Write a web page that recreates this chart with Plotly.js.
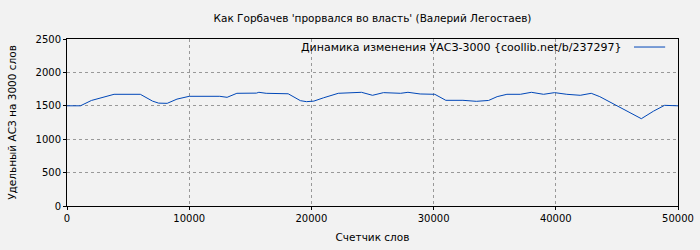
<!DOCTYPE html>
<html><head><meta charset="utf-8">
<script src="https://cdn.plot.ly/plotly-3.0.1.min.js"></script>
<style>html,body{margin:0;padding:0;background:#f2f2f2;}</style>
</head><body><div id="chart" style="width:700px;height:250px;"></div>
<script>
const words = [0, 1100, 2000, 3000, 3850, 6000, 7000, 7500, 8200, 9000, 10000, 12500, 13100, 13900, 15500, 15700, 16300, 18100, 19100, 19600, 20200, 21000, 22200, 24100, 25000, 25900, 26400, 27300, 27900, 28900, 30100, 31000, 32400, 33500, 34500, 35200, 36000, 37100, 38000, 39000, 39900, 40900, 42000, 42900, 43600, 44500, 45500, 46300, 47000, 48000, 48900, 50000];
const uasz  = [1500, 1500, 1580, 1630, 1672, 1672, 1570, 1540, 1537, 1600, 1642, 1642, 1627, 1687, 1690, 1702, 1687, 1680, 1577, 1562, 1570, 1620, 1687, 1702, 1657, 1697, 1697, 1687, 1702, 1677, 1672, 1582, 1582, 1567, 1580, 1637, 1672, 1672, 1702, 1672, 1697, 1672, 1657, 1687, 1637, 1550, 1450, 1370, 1307, 1420, 1507, 1500];
const chartTitle = "Как Горбачев 'прорвался во власть' (Валерий Легостаев)";
const seriesName = "Динамика изменения УАСЗ-3000 {coollib.net/b/237297}";
const xTitle = "Счетчик слов";
const yTitle = "Удельный АСЗ на 3000 слов";

const fam = "DejaVu Sans, sans-serif";
const lineColor = '#0047b8';
Plotly.newPlot('chart', [{
  x: words, y: uasz, type: 'scatter', mode: 'lines', name: seriesName,
  line: {color: lineColor, width: 1}
}], {
  width: 700, height: 250,
  paper_bgcolor: '#f2f2f2', plot_bgcolor: '#f2f2f2',
  margin: {l: 67, r: 22, t: 39, b: 44},
  font: {family: fam, size: 10, color: '#000'},
  title: {text: chartTitle, xref: 'paper', x: 0.5, xanchor: 'center', yref: 'container', y: 0.925, yanchor: 'middle', font: {family: fam, size: 10.5, color: '#000'}},
  showlegend: false,
  annotations: [{
    text: seriesName, xref: 'paper', yref: 'paper', x: 0.911, y: 0.952,
    xanchor: 'right', yanchor: 'middle', showarrow: false, font: {family: fam, size: 11, color: '#000'}
  }],
  shapes: [{
    type: 'line', xref: 'paper', yref: 'paper', x0: 0.928, x1: 0.979, y0: 0.952, y1: 0.952,
    line: {color: lineColor, width: 1}
  }],
  xaxis: {
    range: [0, 50000], dtick: 10000, tickformat: 'd',
    showgrid: true, gridcolor: '#999', griddash: 'dot', gridwidth: 1,
    showline: true, linecolor: '#000', linewidth: 1, mirror: true,
    ticks: 'outside', ticklen: 3, tickcolor: '#000',
    zeroline: false,
    title: {text: xTitle, font: {family: fam, size: 10.5}, standoff: 10}
  },
  yaxis: {
    range: [0, 2500], dtick: 500,
    showgrid: true, gridcolor: '#999', griddash: 'dot', gridwidth: 1,
    showline: true, linecolor: '#000', linewidth: 1, mirror: true,
    ticks: 'outside', ticklen: 3, tickcolor: '#000',
    zeroline: false,
    title: {text: yTitle, font: {family: fam, size: 10.5}, standoff: 16}
  }
}, {displayModeBar: false, staticPlot: true});
</script></body></html>
